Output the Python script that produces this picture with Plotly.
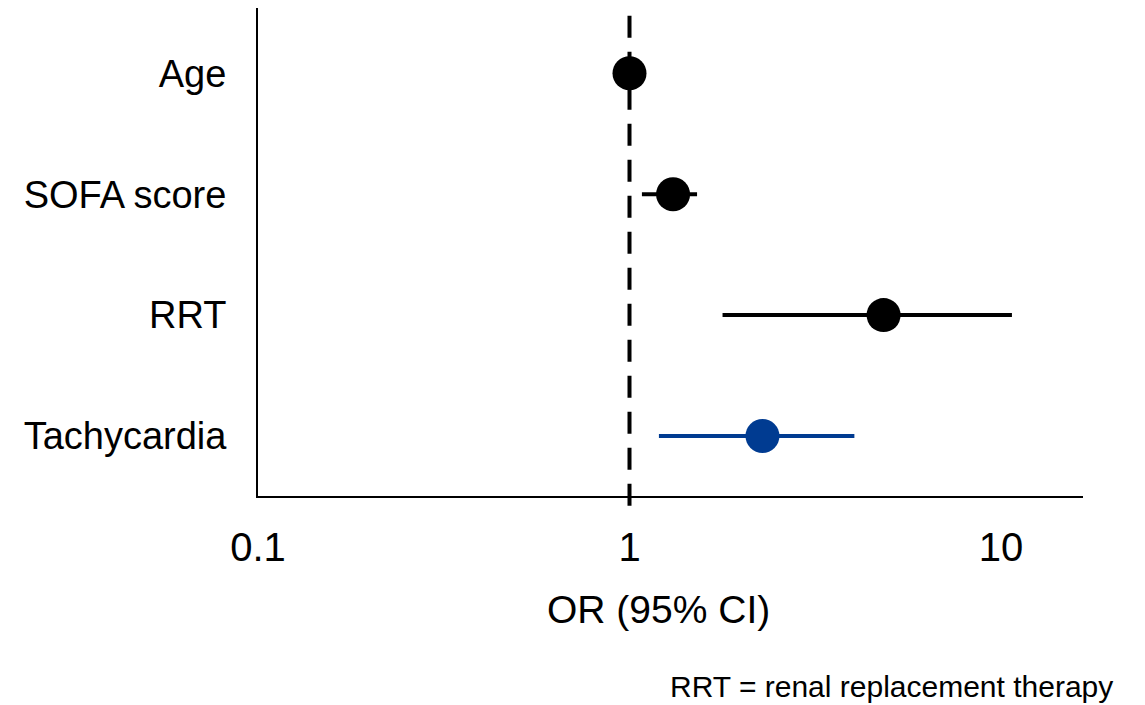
import plotly.graph_objects as go

# Odds ratios with 95% confidence intervals
variables = ["Age", "SOFA score", "RRT", "Tachycardia"]
odds_ratio = [1.00, 1.31, 4.83, 2.28]
ci_low = [0.99, 1.08, 1.78, 1.20]
ci_high = [1.02, 1.52, 10.7, 4.03]
colors = ["#000000", "#000000", "#000000", "#003B91"]

tick_vals = [0.1, 1, 10]
tick_text = ["0.1", "1", "10"]

FONT = "Liberation Sans, Arial, sans-serif"

# rows are plotted top to bottom
ypos = list(range(len(variables), 0, -1))

fig = go.Figure()

for name, y, orv, lo, hi, c in zip(variables, ypos, odds_ratio, ci_low, ci_high, colors):
    fig.add_trace(go.Scatter(
        x=[orv], y=[y], mode="markers",
        marker=dict(size=34, color=c),
        error_x=dict(type="data", symmetric=False,
                     array=[hi - orv], arrayminus=[orv - lo],
                     color=c, thickness=4, width=0),
        showlegend=False, name=name,
    ))

# reference line at OR = 1
fig.add_shape(type="line", xref="x", yref="paper", x0=1, x1=1, y0=-0.02, y1=0.99,
              line=dict(color="black", width=4, dash="22px,14px"), layer="below")

fig.update_layout(
    width=1145, height=705,
    margin=dict(l=258, r=62, t=8, b=209),
    plot_bgcolor="white", paper_bgcolor="white",
    font=dict(family=FONT, color="black"),
    xaxis=dict(
        type="log", range=[-1, 1.2207],
        tickvals=tick_vals, ticktext=tick_text,
        tickfont=dict(size=40), ticks="", showgrid=False, zeroline=False,
        showline=True, linecolor="black", linewidth=2,
        ticklabelstandoff=15,
    ),
    yaxis=dict(
        range=[0.504, 4.54],
        tickvals=ypos, ticktext=variables,
        tickfont=dict(size=38), ticks="", showgrid=False, zeroline=False,
        showline=True, linecolor="black", linewidth=2,
        ticklabelstandoff=22,
    ),
    annotations=[
        dict(text="OR (95% CI)", xref="paper", yref="paper",
             x=0.485, y=-0.232, xanchor="center", yanchor="middle", showarrow=False,
             font=dict(size=39, family=FONT)),
        dict(text="RRT = renal replacement therapy", xref="paper", yref="paper",
             x=1.0388, y=-0.391, xanchor="right", yanchor="middle", showarrow=False,
             font=dict(size=30, family=FONT)),
    ],
)

fig.write_html("out.html")
